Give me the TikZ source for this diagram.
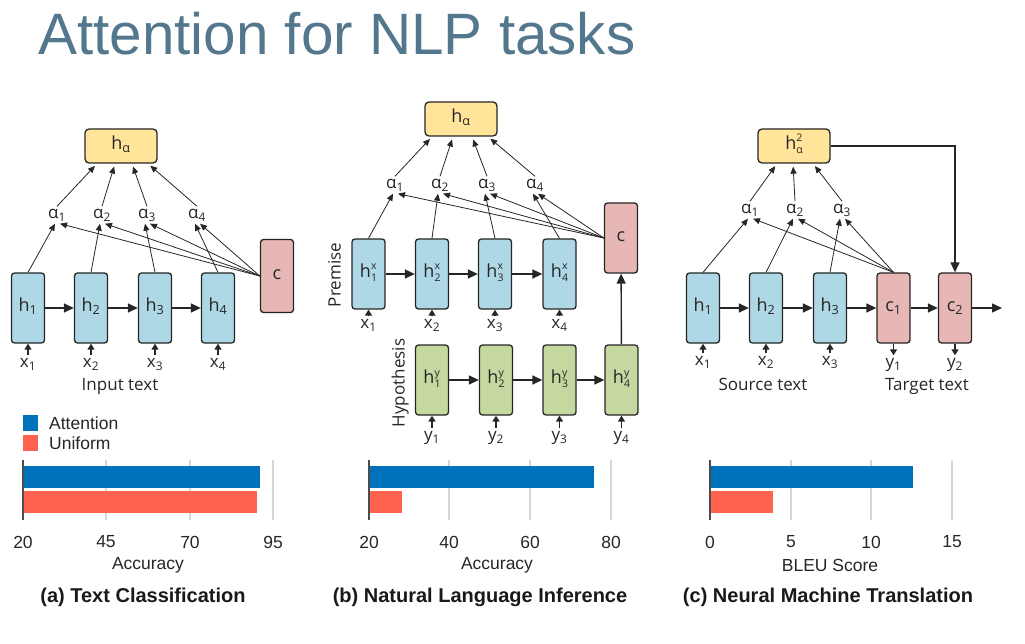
\documentclass[tikz,border=0pt]{standalone}
\usepackage{fontspec}
\setmainfont{Liberation Sans}
\newfontfamily\lblfont{Open Sans}
\usetikzlibrary{arrows.meta, positioning}
\definecolor{lineColor}{RGB}{38, 38, 38}
\definecolor{encColor}{RGB}{174, 216, 230}
\definecolor{hypColor}{RGB}{197, 216, 160}
\definecolor{ctxColor}{RGB}{231, 183, 182}
\definecolor{attColor}{RGB}{255, 228, 153}
\definecolor{barBlue}{RGB}{0, 114, 187}
\definecolor{barRed}{RGB}{255, 99, 79}
\definecolor{gridColor}{RGB}{215, 215, 215}
\definecolor{titleColor}{RGB}{83, 120, 141}
\newcommand{\hsub}[3]{#1\raisebox{-4pt}{\fontsize{10.5}{11.5}\selectfont\begin{tabular}[b]{@{}l@{}}#2\\#3\end{tabular}}}

\begin{document}
\begin{tikzpicture}[
  x=1pt, y=-1pt,
  every node/.style={inner sep=1pt},
  lbl/.style={font=\lblfont\fontsize{17}{20}\selectfont, text=lineColor, text height=11pt, text depth=4pt},
  cell/.style={lbl, font=\lblfont\fontsize{18}{21}\selectfont, draw=lineColor, line width=1.3pt,
    rounded corners=3pt, minimum width=33pt, minimum height=70pt},
  enc/.style={cell, fill=encColor},
  hyp/.style={cell, fill=hypColor},
  ctx/.style={cell, fill=ctxColor},
  pool/.style={cell, rounded corners=4pt, fill=attColor, minimum width=72pt, minimum height=34pt},
  att/.style={draw=lineColor, line width=0.8pt, -{Triangle[length=7pt, width=6pt]}},
  flow/.style={draw=lineColor, line width=1.4pt, -{Triangle[length=10pt, width=9pt]}},
  feed/.style={draw=lineColor, line width=1.4pt, -{Triangle[length=6pt, width=7pt]}},
  gridline/.style={draw=gridColor, line width=1.5pt},
  axisline/.style={draw=black!70, line width=1.2pt},
  ticklbl/.style={font=\fontsize{17.5}{20}\selectfont, text=black!85},
  captext/.style={font=\bfseries\fontsize{20}{24}\selectfont, text=black!90}
]
\useasboundingbox (0,0) rectangle (1025,644);

\node[anchor=base west, inner sep=0pt, text=titleColor, font=\fontsize{58.4}{62}\selectfont]
  (title) at (38,55) {Attention for NLP tasks};

% (a) text classification
\node[pool] (A-ha) at (121,146) {h\textsubscript{α}};
\node[ctx, minimum height=73pt] (A-c) at (277,276) {c};
\foreach \i/\px in {1/28,2/91,3/155,4/218}{
  \node[enc] (A-h\i) at (\px,308) {h\textsubscript{\i}};
  \node[lbl] (A-x\i) at (\px,364) {x\textsubscript{\i}};
  \draw[feed] (A-x\i) -- (A-h\i);
}
\foreach \i/\px/\dx in {1/57/-24,2/102/-6,3/147/11,4/197/27}{
  \node[lbl] (A-a\i) at (\px,215) {α\textsubscript{\i}};
  \draw[att] (A-h\i.north) -- ([xshift=-2pt]A-a\i.south);
  \draw[att] (A-c.west) -- ([xshift=3pt]A-a\i.south);
  \draw[att, shorten >=3pt] (A-a\i.north) -- ([xshift=\dx pt]A-ha.south);
}
\foreach \i/\j in {1/2,2/3,3/4} \draw[flow] (A-h\i) -- (A-h\j);
\node[lbl] (A-in) at (120,387) {Input text};

% (b) natural language inference
\node[pool] (B-ha) at (461,119) {h\textsubscript{α}};
\node[ctx] (B-c) at (621,238) {c};
\foreach \i/\px/\qx in {1/368.5/432,2/432/496,3/495/559.5,4/559.5/621.5}{
  \node[enc] (B-hx\i) at (\px,274) {\hsub{h}{x}{\i}};
  \node[lbl] (B-x\i) at (\px,325) {x\textsubscript{\i}};
  \draw[feed] (B-x\i) -- (B-hx\i);
  \node[hyp] (B-hy\i) at (\qx,380) {\hsub{h}{y}{\i}};
  \node[lbl] (B-y\i) at (\qx,437) {y\textsubscript{\i}};
  \draw[feed] (B-y\i) -- (B-hy\i);
}
\foreach \i/\px/\dx in {1/395/-29,2/440/-8,3/487/11,4/535/27}{
  \node[lbl] (B-a\i) at (\px,185) {α\textsubscript{\i}};
  \draw[att] (B-hx\i.north) -- ([xshift=-2pt]B-a\i.south);
  \draw[att] (B-c.west) -- ([xshift=3pt]B-a\i.south);
  \draw[att, shorten >=3pt] (B-a\i.north) -- ([xshift=\dx pt]B-ha.south);
}
\foreach \i/\j in {1/2,2/3,3/4}{
  \draw[flow] (B-hx\i) -- (B-hx\j);
  \draw[flow] (B-hy\i) -- (B-hy\j);
}
\draw[flow] (B-hy4) -- (B-c);
\node[lbl, rotate=90] (B-prem) at (337,275) {Premise};
\node[lbl, rotate=90] (B-hypo) at (401,383) {Hypothesis};

% (c) neural machine translation
\node[pool] (C-ha) at (794,146) {\hsub{h}{2}{α}};
\node[ctx] (C-c1) at (893.5,308) {c\textsubscript{1}};
\node[ctx] (C-c2) at (955,308) {c\textsubscript{2}};
\coordinate (C-out) at (1002,308);
\foreach \i/\px/\dx in {1/703/-17,2/766/-1,3/830/19}{
  \node[enc] (C-h\i) at (\px,308) {h\textsubscript{\i}};
  \node[lbl] (C-x\i) at (\px,362) {x\textsubscript{\i}};
  \draw[feed] (C-x\i) -- (C-h\i);
}
\foreach \i/\px/\dx in {1/750/-17,2/795/-1,3/842/19}{
  \node[lbl] (C-a\i) at (\px,210) {α\textsubscript{\i}};
  \draw[att] (C-h\i.north) -- ([xshift=-2pt]C-a\i.south);
  \draw[att] (C-c1.north) -- ([xshift=3pt]C-a\i.south);
  \draw[att, shorten >=3pt] (C-a\i.north) -- ([xshift=\dx pt]C-ha.south);
}
\foreach \i/\j in {h1/h2,h2/h3,h3/c1,c1/c2} \draw[flow] (C-\i) -- (C-\j);
\draw[flow] (C-c2) -- (C-out);
\draw[draw=lineColor, line width=1.2pt, -{Triangle[length=10pt, width=9pt]}]
  (C-ha.east) -| (C-c2.north);
\foreach \i/\px in {1/893.5,2/955}{
  \node[lbl] (C-y\i) at (\px,364) {y\textsubscript{\i}};
  \draw[feed] (C-c\i) -- (C-y\i);
}
\node[lbl] (C-src) at (763,387) {Source text};
\node[lbl] (C-tgt) at (927,387) {Target text};

% legend
\fill[barBlue] (23,415) rectangle (38,431);
\fill[barRed] (23,435) rectangle (38,451);
\node[ticklbl, anchor=west] (leg-att) at (48,423) {Attention};
\node[ticklbl, anchor=west] (leg-uni) at (48,443) {Uniform};

% bar charts
\foreach \gx in {106,190,273,449,530,611,791,871,952} \draw[gridline] (\gx,460) -- (\gx,520);
\fill[barBlue] (23,466) rectangle (260,488);
\fill[barRed] (23,491) rectangle (257,513);
\fill[barBlue] (369,466) rectangle (594,488);
\fill[barRed] (369,491) rectangle (402,513);
\fill[barBlue] (710,466) rectangle (913,488);
\fill[barRed] (710,491) rectangle (773,513);
\foreach \gx in {23,369,710} \draw[axisline] (\gx,460) -- (\gx,520);
\foreach \v/\gx in {20/23,45/106,70/190,95/273} \node[ticklbl] (A-t\v) at (\gx,542) {\v};
\foreach \v/\gx in {20/369,40/449,60/530,80/611} \node[ticklbl] (B-t\v) at (\gx,542) {\v};
\foreach \v/\gx in {0/710,5/791,10/871,15/952} \node[ticklbl] (C-t\v) at (\gx,542) {\v};
\node[ticklbl] (A-xl) at (148,565) {Accuracy};
\node[ticklbl] (B-xl) at (497,565) {Accuracy};
\node[ticklbl] (C-xl) at (830,565) {BLEU Score};
\node[captext] (A-cap) at (143,597) {(a) Text Classification};
\node[captext] (B-cap) at (480,597) {(b) Natural Language Inference};
\node[captext] (C-cap) at (828,597) {(c) Neural Machine Translation};
\end{tikzpicture}
\end{document}
